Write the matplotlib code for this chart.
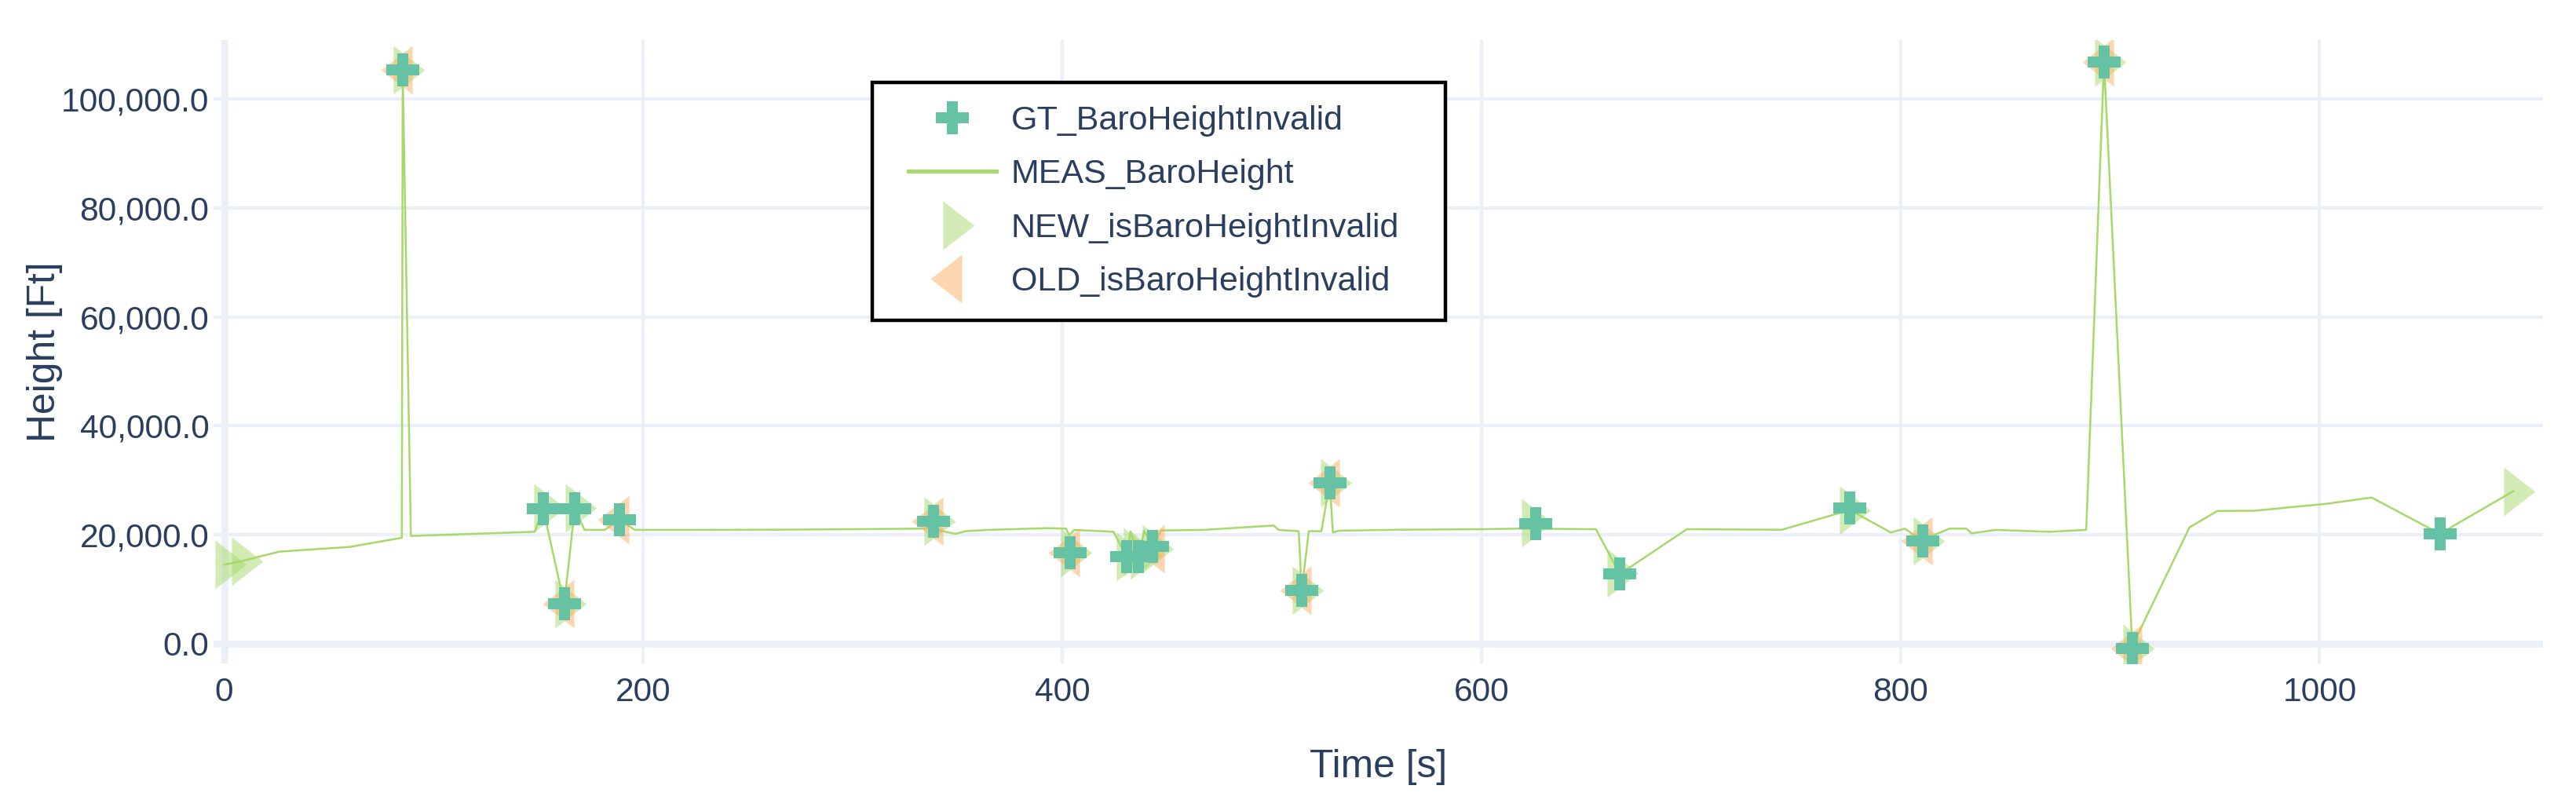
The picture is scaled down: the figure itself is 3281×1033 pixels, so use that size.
import numpy as np
import matplotlib.pyplot as plt
from matplotlib.lines import Line2D
from matplotlib.patches import Rectangle
from matplotlib.ticker import FuncFormatter, MultipleLocator

plt.rcParams['font.family'] = ['Liberation Sans', 'DejaVu Sans']

# MEAS_BaroHeight (time [s], height [ft])
meas_t = [0, 7.9, 26.3, 59.8, 84.8, 85.2, 89.1, 148.2, 152.2, 162.3, 167.3, 172.0,
          181.6, 188.8, 196.0, 260.0, 300.0, 334.6, 338.6, 342.0, 349.0, 353.8,
          364.6, 393.3, 401.7, 403.3, 405.7, 424.4, 430.6, 432.5, 436.4, 439.0,
          443.2, 447.1, 467.4, 500.9, 503.2, 512.8, 514.2, 517.6, 523.6, 527.6,
          529.1, 531.9, 560.0, 600.0, 618.0, 654.6, 659.8, 666.0, 670.5, 698.0,
          743.4, 771.0, 775.6, 779.5, 795.4, 802.0, 810.6, 817.3, 823.4, 831.4,
          833.9, 845.4, 870.9, 888.6, 897.1, 910.6, 913.5, 937.9, 951.2, 968.4,
          1004.0, 1024.8, 1057.4, 1092.5]
meas_h = [14470, 15100, 16880, 17740, 19420, 105400, 19760, 20530, 24810, 7260, 24810, 20870,
          20870, 22690, 20870, 20900, 21000, 21110, 21600, 20700, 20150, 20630,
          20870, 21200, 21110, 19900, 20870, 20530, 15920, 20600, 15920, 20700,
          17840, 20770, 20870, 21680, 20870, 20630, 9800, 20630, 20630, 29520,
          20390, 20720, 20900, 21000, 21110, 21000, 17260, 12760, 13900, 21000,
          20900, 23990, 24840, 23750, 20390, 21110, 18800, 20150, 21110, 21110,
          20240, 20870, 20530, 20870, 106800, -700, 1880, 21350, 24350, 24380,
          25700, 26820, 20160, 28000]

# GT_BaroHeightInvalid
gt_t = [85.2, 152.2, 162.3, 167.3, 188.8, 338.6, 403.6, 430.6, 436.4, 443.2,
        514.2, 527.6, 626.0, 666.0, 775.6, 810.6, 897.1, 910.6, 1057.4]
gt_h = [105400, 24810, 7260, 24810, 22690, 22500, 16640, 15920, 15920, 17840,
        9800, 29520, 22060, 12720, 24840, 18780, 106800, -870, 20160]

# NEW_isBaroHeightInvalid
new_t = [0, 7.9, 85.2, 152.2, 162.3, 167.3, 338.6, 403.6, 430.4, 433.5, 437.0, 442.5,
         514.2, 527.6, 623.5, 664.3, 775.5, 810.6, 897.1, 910.6, 1092.5]
new_h = [14470, 15100, 105400, 24860, 7260, 24860, 22500, 16640, 16000, 16800, 16300, 17400,
         9800, 29520, 22160, 12930, 24470, 18780, 106800, -870, 28000]

# OLD_isBaroHeightInvalid
old_t = [85.2, 162.3, 188.8, 338.6, 403.6, 444.0, 514.2, 527.6, 810.6, 897.1, 910.6]
old_h = [105400, 7260, 22690, 22500, 16640, 17400, 9800, 29520, 18780, 106800, -870]

TXT = '#2a3f5f'
GRID = '#ebf0f8'
C_GT = '#66c2a5'
C_MEAS = '#a6d96a'
C_OLD = '#fdae61'

tri_right = [(-0.39, -1), (0.9, 0), (-0.39, 1), (-0.39, -1)]
tri_left = [(0.39, -1), (-0.9, 0), (0.39, 1), (0.39, -1)]

W, H = 3281, 1033
fig = plt.figure(figsize=(W / 200, H / 200), dpi=200)
L, R, T, B = 272, 3239, 50.7, 845
ax = fig.add_axes([L / W, 1 - B / H, (R - L) / W, (B - T) / H])

# grid + zero lines
for x in [200, 400, 600, 800, 1000]:
    ax.axvline(x, color=GRID, lw=1.55, zorder=0)
for y in [20000, 40000, 60000, 80000, 100000]:
    ax.axhline(y, color=GRID, lw=1.55, zorder=0)
ax.axvline(0, color=GRID, lw=3.1, zorder=0.5)
ax.axhline(0, color=GRID, lw=3.1, zorder=0.5)

ax.plot(meas_t, meas_h, color=C_MEAS, lw=0.9, zorder=2)
ax.scatter(new_t, new_h, marker=tri_right, s=22.3 ** 2, c=C_MEAS, alpha=0.5, linewidths=0, zorder=3)
ax.scatter(old_t, old_h, marker=tri_left, s=22.3 ** 2, c=C_OLD, alpha=0.5, linewidths=0, zorder=4)
ax.scatter(gt_t, gt_h, marker='P', s=15.1 ** 2, c=C_GT, linewidths=0, zorder=5)

ax.set_xlim(-5.06, 1106.6)
ax.set_ylim(-3650, 110890)
ax.xaxis.set_major_locator(MultipleLocator(200))
ax.yaxis.set_major_locator(MultipleLocator(20000))
ax.yaxis.set_major_formatter(FuncFormatter(lambda v, p: f'{v:,.1f}'))
ax.tick_params(length=0, labelsize=15.3, labelcolor=TXT)
ax.tick_params(axis='x', pad=6)
ax.tick_params(axis='y', pad=2)
for s in ax.spines.values():
    s.set_visible(False)

ax.set_xlabel('Time [s]', fontsize=17.9, color=TXT)
ax.xaxis.label.set_verticalalignment('center')
ax.xaxis.set_label_coords(0.5, (B - 977) / (B - T))
ax.set_ylabel('Height [Ft]', fontsize=17.9, color=TXT)
ax.yaxis.label.set_verticalalignment('center')
ax.yaxis.set_label_coords((57 - L) / (R - L), 0.5)

# legend
handles = [
    Line2D([], [], ls='none', marker='P', ms=15.1, mfc=C_GT, mec='none', mew=0),
    Line2D([], [], color=C_MEAS, lw=1.8),
    Line2D([], [], ls='none', marker=tri_right, ms=22.3, mfc=C_MEAS, mec='none', mew=0, alpha=0.5),
    Line2D([], [], ls='none', marker=tri_left, ms=22.3, mfc=C_OLD, mec='none', mew=0, alpha=0.5),
]
labels = ['GT_BaroHeightInvalid', 'MEAS_BaroHeight', 'NEW_isBaroHeightInvalid', 'OLD_isBaroHeightInvalid']
ax.add_patch(Rectangle((1110.5 / W, 1 - 408 / H), (1840.7 - 1110.5) / W, (408 - 105) / H,
                       transform=fig.transFigure, fc='white', ec='black', lw=1.6,
                       zorder=4.9, clip_on=False))
leg = ax.legend(handles, labels, loc='upper left', bbox_to_anchor=(1157 / W, 1 - 134 / H),
                bbox_transform=fig.transFigure, frameon=False, borderpad=0, borderaxespad=0,
                handlelength=2.61, handletextpad=0.43, labelspacing=0.66, fontsize=15.5,
                labelcolor=TXT, numpoints=1)
leg.set_zorder(6)

fig.savefig('out.png', dpi=200, facecolor='white')
